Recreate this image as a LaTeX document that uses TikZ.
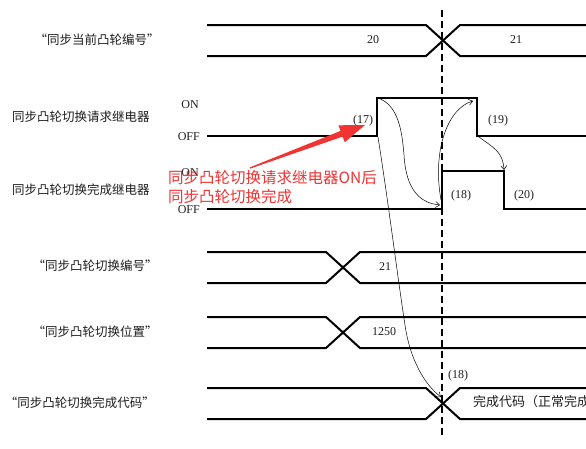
\documentclass[tikz,border=0pt]{standalone}
\usepackage{fontspec}
\setmainfont{Liberation Serif}
\newfontfamily\cjk{Noto Sans CJK SC}
\usetikzlibrary{arrows.meta}
\definecolor{ink}{RGB}{30,30,30}
\definecolor{redmark}{RGB}{240,52,52}
\begin{document}
\begin{tikzpicture}[x=1pt,y=-1pt,
  wave/.style={line width=2pt, line join=miter},
  lbl/.style={font=\cjk\fontsize{12.5}{14}\selectfont, text=ink, inner sep=0pt},
  num/.style={font=\fontsize{12}{14}\selectfont, text=ink, inner sep=0pt},
  flow/.style={line width=0.5pt, -{Straight Barb[length=4pt,width=6pt]}},
  redtxt/.style={font=\cjk\fontsize{15.5}{19}\selectfont, text=redmark, inner sep=0pt, align=left}]
\useasboundingbox (0,0) rectangle (586,448);
\fill[white] (0,0) rectangle (586,448);

% labels
\node[lbl] (l1) at (97,40) {“同步当前凸轮编号”};
\node[lbl] (l2) at (81,117) {同步凸轮切换请求继电器};
\node[lbl] (l3) at (81,190) {同步凸轮切换完成继电器};
\node[lbl] (l4) at (95,266) {“同步凸轮切换编号”};
\node[lbl] (l5) at (95,332) {“同步凸轮切换位置”};
\node[lbl] (l6) at (80,403) {“同步凸轮切换完成代码”};

\node[num, anchor=east] (on1) at (199,105) {ON};
\node[num, anchor=east] (off1) at (200,137) {OFF};
\node[num, anchor=east] (on2) at (199,173) {ON};
\node[num, anchor=east] (off2) at (200,210) {OFF};

% waveforms
\draw[wave] (207,25) -- (426,25) -- (460,56) -- (586,56);
\draw[wave] (207,56) -- (426,56) -- (460,25) -- (586,25);
\draw[wave] (207,136) -- (377,136) -- (377,98) -- (477,98) -- (477,136) -- (586,136);
\draw[wave] (207,209) -- (442,209) -- (442,171) -- (504,171) -- (504,209) -- (586,209);
\draw[wave] (207,252) -- (326,252) -- (360,283) -- (586,283);
\draw[wave] (207,283) -- (326,283) -- (360,252) -- (586,252);
\draw[wave] (207,317) -- (326,317) -- (360,348) -- (586,348);
\draw[wave] (207,348) -- (326,348) -- (360,317) -- (586,317);
\draw[wave] (207,388) -- (426,388) -- (460,419) -- (586,419);
\draw[wave] (207,419) -- (426,419) -- (460,388) -- (586,388);

% dashed time line
\draw[line width=1.8pt, dash pattern=on 7pt off 4pt] (442,10) -- (442,435);

% values
\node[num] (v20) at (373,40) {20};
\node[num] (v21) at (516,40) {21};
\node[num] (v21b) at (385,267) {21};
\node[num] (v1250) at (384,332) {1250};
\node[num] (n17) at (363,121) {(17)};
\node[num] (n19) at (498,121) {(19)};
\node[num] (n18) at (461,196) {(18)};
\node[num] (n20) at (524,196) {(20)};
\node[num] (n18b) at (458,376) {(18)};
\begin{scope}
\clip (0,0) rectangle (586,448);
\node[lbl, anchor=west, font=\cjk\fontsize{13}{14}\selectfont] (code) at (473,402) {完成代码（正常完成）};
\end{scope}

% event coordinates
\coordinate (reqTop) at (378,98);
\coordinate (reqBot) at (378,137);
\coordinate (cmpBot) at (440,205);
\coordinate (cmpEdge) at (441,200);
\coordinate (reqFallTop) at (473,101);
\coordinate (reqFallBot) at (479,137);
\coordinate (cmpFallTop) at (504,170);
\coordinate (codeX) at (441,397);

% causal arrows
\draw[flow] (reqTop) .. controls (398,105) and (402,130) .. (404,155) .. controls (406,190) and (420,203) .. (cmpBot);
\draw[flow] (reqBot) .. controls (388,200) and (398,280) .. (405,325) .. controls (410,360) and (425,385) .. (codeX);
\draw[flow] (cmpEdge) .. controls (432,150) and (448,108) .. (reqFallTop);
\draw[flow] (reqFallBot) .. controls (494,148) and (503,152) .. (cmpFallTop);

% red annotation arrow
\coordinate (rtail) at (250,168);
\coordinate (rtip) at (365,125);
\fill[redmark] (249.8,167.4) -- (340.6,130.9) -- (338.4,125.3) -- (rtip) -- (344.8,142.2) -- (342.6,136.6) -- (250.2,168.6) -- cycle;
\node[redtxt, anchor=north west] (note) at (168,170) {同步凸轮切换请求继电器ON后\\同步凸轮切换完成};
\end{tikzpicture}
\end{document}
